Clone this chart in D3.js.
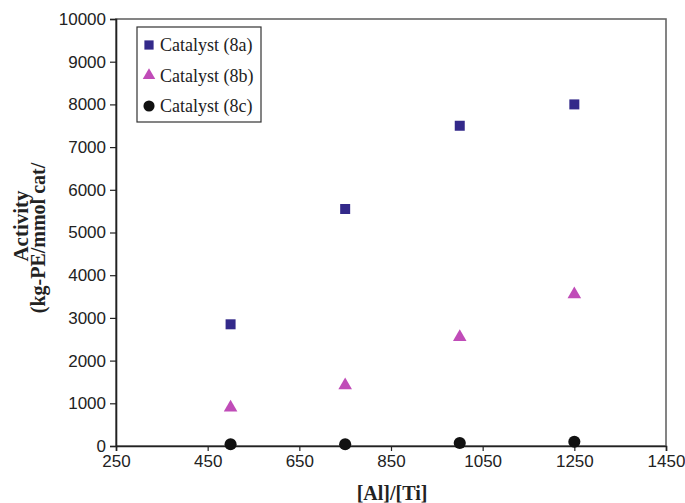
<!DOCTYPE html>
<html>
<head>
<meta charset="utf-8">
<script src="https://cdn.jsdelivr.net/npm/d3@7"></script>
<style>
  body { margin: 0; background: #fff; }
  .tick text { font-family: "Liberation Sans", Arial, sans-serif; font-size: 17px; fill: #222; }
  .lab { font-family: "Liberation Serif", "Times New Roman", serif; font-weight: bold; fill: #222; }
  .leg { font-family: "Liberation Serif", "Times New Roman", serif; font-size: 18px; fill: #222; }
</style>
</head>
<body>
<div id="chart-area"></div>
<script>
// ratio [Al]/[Ti]
var ratios = [500, 750, 1000, 1250];
// activity values for each catalyst
var cat8a = [2850, 5550, 7500, 8000];
var cat8b = [900, 1420, 2550, 3550];
var cat8c = [40, 40, 70, 100];
var seriesNames = ["Catalyst (8a)", "Catalyst (8b)", "Catalyst (8c)"];
var xTicks = [250, 450, 650, 850, 1050, 1250, 1450];
var yTicks = [0, 1000, 2000, 3000, 4000, 5000, 6000, 7000, 8000, 9000, 10000];

var margin = { left: 116, right: 19, top: 19, bottom: 57 };
var width = 685 - margin.left - margin.right;
var height = 503 - margin.top - margin.bottom;

var svg = d3.select("#chart-area").append("svg")
    .attr("width", 685)
    .attr("height", 503);

var g = svg.append("g")
    .attr("transform", "translate(" + margin.left + "," + margin.top + ")");

var x = d3.scaleLinear().domain([250, 1450]).range([0, width]);
var y = d3.scaleLinear().domain([0, 10000]).range([height, 0]);

// frame (top and right sides)
g.append("rect")
    .attr("x", 0).attr("y", 0)
    .attr("width", width).attr("height", height)
    .attr("fill", "none")
    .attr("stroke", "#666")
    .attr("stroke-width", 1.6);

var xAxis = g.append("g")
    .attr("transform", "translate(0," + height + ")")
    .call(d3.axisBottom(x).tickValues(xTicks).tickSize(5).tickPadding(4).tickFormat(d3.format("d")));
var yAxis = g.append("g")
    .call(d3.axisLeft(y).tickValues(yTicks).tickSize(6).tickPadding(4).tickFormat(d3.format("d")));
[xAxis, yAxis].forEach(function(a) {
    a.select(".domain").attr("stroke", "#222").attr("stroke-width", 1.6);
    a.selectAll(".tick line").attr("stroke", "#222").attr("stroke-width", 1.2);
});

var colors = ["#33298a", "#c04cb8", "#111111"];
var symbols = [d3.symbolSquare, d3.symbolTriangle, d3.symbolCircle];
var sizes = [100, 80, 115];
var allSeries = [cat8a, cat8b, cat8c];

allSeries.forEach(function(vals, i) {
    var pts = ratios.map(function(r, j) { return { r: r, v: vals[j] }; });
    g.selectAll(".pt" + i)
        .data(pts)
        .enter().append("path")
        .attr("class", "pt" + i)
        .attr("d", d3.symbol().type(symbols[i]).size(sizes[i]))
        .attr("transform", function(d) { return "translate(" + x(d.r) + "," + y(d.v) + ")"; })
        .attr("fill", colors[i]);
});

// legend
var leg = svg.append("g").attr("transform", "translate(137,27)");
leg.append("rect")
    .attr("width", 124).attr("height", 95)
    .attr("fill", "#fff").attr("stroke", "#333").attr("stroke-width", 1.2);
seriesNames.forEach(function(name, i) {
    var row = leg.append("g").attr("transform", "translate(0," + (18 + i * 30.5) + ")");
    row.append("path")
        .attr("d", d3.symbol().type(symbols[i]).size(sizes[i] * 0.85))
        .attr("transform", "translate(12,0)")
        .attr("fill", colors[i]);
    row.append("text").attr("class", "leg")
        .attr("x", 23).attr("y", 6)
        .text(name);
});

// axis titles
svg.append("text").attr("class", "lab")
    .attr("x", 392).attr("y", 500)
    .attr("text-anchor", "middle")
    .attr("font-size", "20px")
    .text("[Al]/[Ti]");

svg.append("text").attr("class", "lab")
    .attr("transform", "translate(28,226) rotate(-90)")
    .attr("text-anchor", "middle")
    .attr("font-size", "21px")
    .text("Activity");
svg.append("text").attr("class", "lab")
    .attr("transform", "translate(45,238) rotate(-90)")
    .attr("text-anchor", "middle")
    .attr("font-size", "20px")
    .text("(kg-PE/mmol cat/");
</script>
</body>
</html>
